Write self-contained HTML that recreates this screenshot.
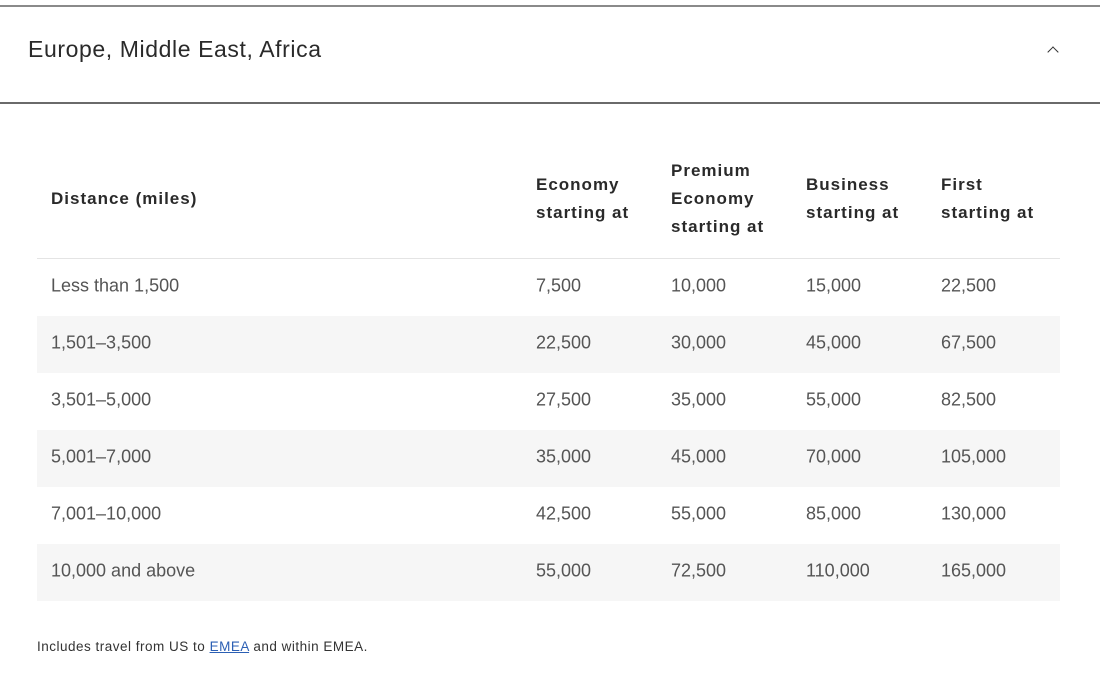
<!DOCTYPE html>
<html><head><style>
body{margin:0;width:1100px;height:696px;background:#fff;font-family:"Liberation Sans",sans-serif;position:relative;overflow:hidden}
.l1{position:absolute;left:0;top:5px;width:1100px;height:2px;background:#8a8a8a}
.l2{position:absolute;left:0;top:102px;width:1100px;height:2px;background:#6a6a6a}
.title{position:absolute;left:28px;top:36px;font-size:23px;letter-spacing:0.6px;color:#2a2a2a}
.chev{position:absolute;left:1049px;top:48px;width:7px;height:7px;border-left:1.8px solid #333;border-top:1.8px solid #333;transform:rotate(45deg)}
.t{position:absolute;font-size:18px;color:#555;transform:translateY(-50%);white-space:nowrap}
.h{position:absolute;font-size:17px;font-weight:bold;letter-spacing:1px;color:#2a2a2a;line-height:28px;transform:translateY(-50%);white-space:nowrap}
.row{position:absolute;left:37px;width:1023px;height:57px}
.g{background:#f6f6f6}
.foot{position:absolute;left:37px;top:639px;font-size:13.5px;letter-spacing:0.5px;color:#333}
.foot a{color:#2b5fb4;text-decoration:underline}
</style></head><body>
<div class="l1"></div>
<div class="title">Europe, Middle East, Africa</div>
<div class="chev"></div>
<div class="l2"></div>
<div class="h" style="left:51px;top:199px">Distance (miles)</div>
<div class="h" style="left:536px;top:199px">Economy<br>starting at</div>
<div class="h" style="left:671px;top:199px">Premium<br>Economy<br>starting at</div>
<div class="h" style="left:806px;top:199px">Business<br>starting at</div>
<div class="h" style="left:941px;top:199px">First<br>starting at</div>
<div class="row" style="top:258px;height:1px;background:#e4e4e4"></div>
<div class="row g" style="top:316px"></div>
<div class="row g" style="top:430px"></div>
<div class="row g" style="top:544px"></div>
<div class="t" style="left:51px;top:286px">Less than 1,500</div><div class="t" style="left:536px;top:286px">7,500</div><div class="t" style="left:671px;top:286px">10,000</div><div class="t" style="left:806px;top:286px">15,000</div><div class="t" style="left:941px;top:286px">22,500</div>
<div class="t" style="left:51px;top:343px">1,501–3,500</div><div class="t" style="left:536px;top:343px">22,500</div><div class="t" style="left:671px;top:343px">30,000</div><div class="t" style="left:806px;top:343px">45,000</div><div class="t" style="left:941px;top:343px">67,500</div>
<div class="t" style="left:51px;top:400px">3,501–5,000</div><div class="t" style="left:536px;top:400px">27,500</div><div class="t" style="left:671px;top:400px">35,000</div><div class="t" style="left:806px;top:400px">55,000</div><div class="t" style="left:941px;top:400px">82,500</div>
<div class="t" style="left:51px;top:457px">5,001–7,000</div><div class="t" style="left:536px;top:457px">35,000</div><div class="t" style="left:671px;top:457px">45,000</div><div class="t" style="left:806px;top:457px">70,000</div><div class="t" style="left:941px;top:457px">105,000</div>
<div class="t" style="left:51px;top:514px">7,001–10,000</div><div class="t" style="left:536px;top:514px">42,500</div><div class="t" style="left:671px;top:514px">55,000</div><div class="t" style="left:806px;top:514px">85,000</div><div class="t" style="left:941px;top:514px">130,000</div>
<div class="t" style="left:51px;top:571px">10,000 and above</div><div class="t" style="left:536px;top:571px">55,000</div><div class="t" style="left:671px;top:571px">72,500</div><div class="t" style="left:806px;top:571px">110,000</div><div class="t" style="left:941px;top:571px">165,000</div>
<div class="foot">Includes travel from US to <a>EMEA</a> and within EMEA.</div>
</body></html>
